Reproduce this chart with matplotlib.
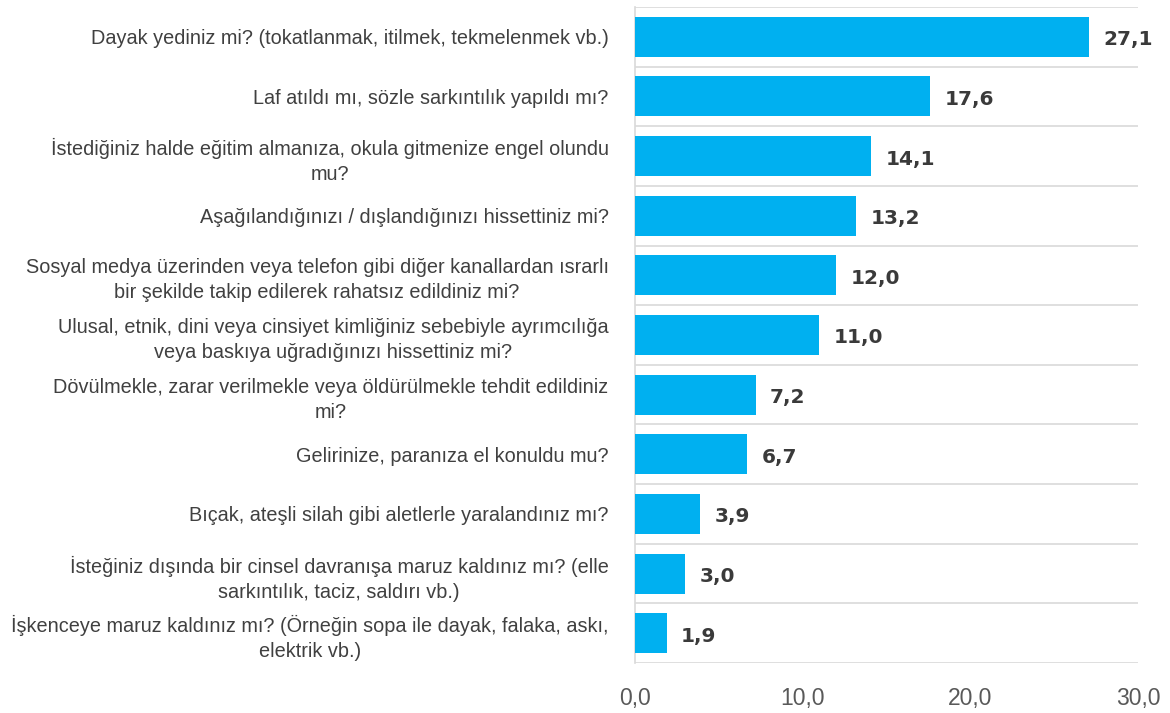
import matplotlib.pyplot as plt
import numpy as np

plt.rcParams['font.family'] = ['Liberation Sans', 'DejaVu Sans']

sorular = [
    "Dayak yediniz mi? (tokatlanmak, itilmek, tekmelenmek vb.)",
    "Laf atıldı mı, sözle sarkıntılık yapıldı mı?",
    "İstediğiniz halde eğitim almanıza, okula gitmenize engel olundu\nmu?",
    "Aşağılandığınızı / dışlandığınızı hissettiniz mi?",
    "Sosyal medya üzerinden veya telefon gibi diğer kanallardan ısrarlı\nbir şekilde takip edilerek rahatsız edildiniz mi?",
    "Ulusal, etnik, dini veya cinsiyet kimliğiniz sebebiyle ayrımcılığa\nveya baskıya uğradığınızı hissettiniz mi?",
    "Dövülmekle, zarar verilmekle veya öldürülmekle tehdit edildiniz\nmi?",
    "Gelirinize, paranıza el konuldu mu?",
    "Bıçak, ateşli silah gibi aletlerle yaralandınız mı?",
    "İsteğiniz dışında bir cinsel davranışa maruz kaldınız mı? (elle\nsarkıntılık, taciz, saldırı vb.)",
    "İşkenceye maruz kaldınız mı? (Örneğin sopa ile dayak, falaka, askı,\nelektrik vb.)",
]
oranlar = [27.1, 17.6, 14.1, 13.2, 12.0, 11.0, 7.2, 6.7, 3.9, 3.0, 1.9]
xticks = [0, 10, 20, 30]

fig = plt.figure(figsize=(11.7, 7.13), dpi=100)
ax = fig.add_axes([0.5427, 0.0701, 0.4299, 0.9201])

y = np.arange(len(sorular))
ax.barh(y, oranlar, height=0.67, color='#00B0F0', zorder=3)
ax.set_ylim(len(sorular) - 0.5, -0.5)
ax.set_xlim(0, 30)

# değer etiketleri
for yi, v in zip(y, oranlar):
    ax.text(v + 0.85, yi + 0.05, f"{v:.1f}".replace('.', ','), va='center', ha='left',
            fontsize=14.5, fontweight='bold', color='#3a3a3a',
            family=['DejaVu Sans'])

ax.set_yticks(y)
ax.set_yticklabels(sorular, fontsize=14.3, color='#404040')
for lbl in ax.get_yticklabels():
    lbl.set_multialignment('center')
    lbl.set_linespacing(1.4)
ax.set_yticks(np.arange(-0.5, len(sorular)), minor=True)
ax.tick_params(axis='y', which='both', length=0, pad=19)
ax.grid(axis='y', which='minor', color='#d9d9d9', linewidth=1.2, zorder=0)

ax.set_xticks(xticks)
ax.set_xticklabels([f"{t:.1f}".replace('.', ',') for t in xticks], fontsize=16.5, color='#595959')
ax.tick_params(axis='x', length=0, pad=17)

for s in ['top', 'right', 'bottom']:
    ax.spines[s].set_visible(False)
ax.spines['left'].set_color('#d9d9d9')
ax.spines['left'].set_linewidth(1.2)

plt.savefig("out.png")
